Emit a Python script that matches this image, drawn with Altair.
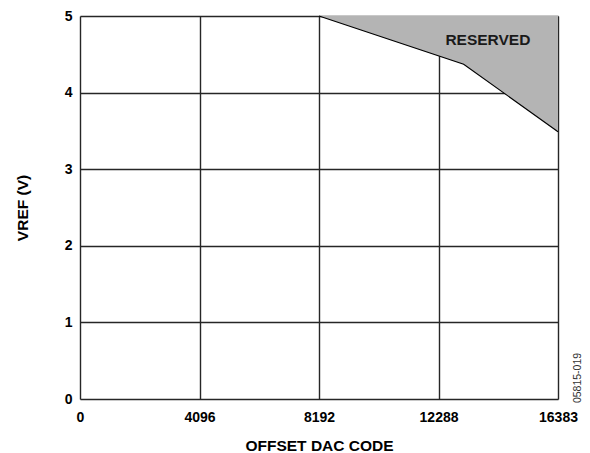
import altair as alt
import pandas as pd

# Boundary of the reserved region (offset DAC code vs VREF)
boundary_code = [8192, 13150, 16383]
boundary_vref = [5.0, 4.37, 3.49]

x_ticks = [0, 4096, 8192, 12288, 16383]
y_ticks = [0, 1, 2, 3, 4, 5]

region_label = "RESERVED"
label_code = [13980]
label_vref = [4.69]
fig_id = "05815-019"

FONT = "Liberation Sans"

df = pd.DataFrame({"code": boundary_code, "vref": boundary_vref})
lab = pd.DataFrame({"code": label_code, "vref": label_vref, "t": [region_label]})

xs = alt.Scale(domain=[0, 16383], nice=False, zero=False)
ys = alt.Scale(domain=[0, 5], nice=False)

x_enc = alt.X("code:Q", scale=xs, axis=alt.Axis(
    values=x_ticks, format="d", title="OFFSET DAC CODE", grid=True, ticks=False, domain=False,
    labelFont=FONT, labelFontSize=14, labelFontWeight="bold", labelColor="black",
    labelPadding=11, labelFlush=False,
    titleFont=FONT, titleFontSize=15.5, titleFontWeight="bold", titleColor="black",
    titlePadding=14,
    gridColor="#262626", gridWidth=1.4, gridOpacity=1))
y_enc = alt.Y("vref:Q", scale=ys, axis=alt.Axis(
    values=y_ticks, format="d", title="VREF (V)", grid=True, ticks=False, domain=False,
    labelFont=FONT, labelFontSize=14, labelFontWeight="bold", labelColor="black",
    labelPadding=8, labelFlush=False, labelBaseline="middle",
    titleFont=FONT, titleFontSize=15.5, titleFontWeight="bold", titleColor="black",
    titlePadding=34,
    gridColor="#262626", gridWidth=1.4, gridOpacity=1))

area = alt.Chart(df).mark_area(color="#b4b4b4", opacity=1).encode(
    x=x_enc, y=y_enc, y2=alt.datum(5))
line = alt.Chart(df).mark_line(color="black", strokeWidth=1.2).encode(
    x=alt.X("code:Q", scale=xs), y=alt.Y("vref:Q", scale=ys))
text = alt.Chart(lab).mark_text(font=FONT, fontSize=15.5, fontWeight="bold",
                                color="#1a1a1a").encode(
    x=alt.X("code:Q", scale=xs), y=alt.Y("vref:Q", scale=ys), text="t:N")
fid = alt.Chart(pd.DataFrame({"t": [fig_id]})).mark_text(
    font=FONT, fontSize=10.5, angle=270, color="#333333").encode(
    x=alt.value(498), y=alt.value(362), text="t:N")

chart = alt.layer(area, line, text, fid).properties(
    width=478, height=383,
    autosize=alt.AutoSizeParams(type="none"),
    padding={"left": 72, "top": 8, "right": 24, "bottom": 54},
).configure_view(stroke="black", strokeWidth=2).configure(background="white")

chart.save("out.html", embed_options={"renderer": "svg", "actions": False})
